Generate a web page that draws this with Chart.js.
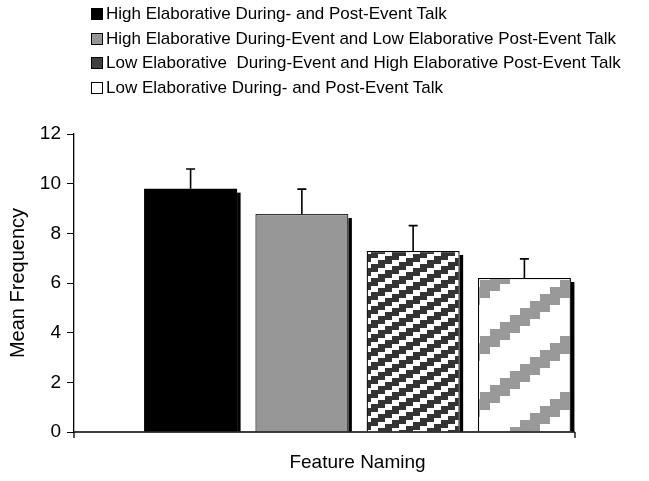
<!DOCTYPE html>
<html>
<head>
<meta charset="utf-8">
<script src="https://cdn.jsdelivr.net/npm/chart.js@4"></script>
<style>
  html, body { margin: 0; padding: 0; background: #fff; }
  #wrap { position: relative; width: 649px; height: 481px; }
  #legenda { position: absolute; left: 91px; top: 4px; font-family: "Liberation Sans", Arial, sans-serif; font-size: 17px; color: #000; }
  #legenda div { height: 24.5px; line-height: 20px; white-space: pre; }
  #legenda span.box { display: inline-block; width: 12px; height: 12px; border: 1px solid #000; margin-right: 3px; vertical-align: -1px; box-sizing: border-box; }
</style>
</head>
<body>
<div id="wrap">
  <canvas id="grafico" width="649" height="481"></canvas>
  <div id="legenda"></div>
</div>
<script>
// ===== DADOS =====
const categorias = ["Feature Naming"];
const series = [
  "High Elaborative During- and Post-Event Talk",
  "High Elaborative During-Event and Low Elaborative Post-Event Talk",
  "Low Elaborative  During-Event and High Elaborative Post-Event Talk",
  "Low Elaborative During- and Post-Event Talk"
];
const medias = [9.8, 8.78, 7.29, 6.2];
const erros = [0.79, 1.0, 1.02, 0.77];
const yTicks = [0, 2, 4, 6, 8, 10, 12];

// ===== PADRÕES =====
function padrao(w, h, bloco, passo, faixa, cor) {
  const c = document.createElement("canvas");
  c.width = w; c.height = h;
  const ctx = c.getContext("2d");
  ctx.fillStyle = "#fff";
  ctx.fillRect(0, 0, w, h);
  ctx.fillStyle = cor;
  for (let x = 0; x < w; x++) {
    const k = Math.floor(x / bloco);
    for (let y = 0; y < h; y++) {
      if ((y + k * passo) % h < faixa) ctx.fillRect(x, y, 1, 1);
    }
  }
  return document.getElementById("grafico").getContext("2d").createPattern(c, "repeat");
}

const preenchimento = [
  "#000000",
  "#969696",
  padrao(49, 14, 7, 4, 8, "#333333"),
  padrao(80, 56, 10, 7, 18, "#999999")
];
const bordas = ["#000000", "#333333", "#000000", "#000000"];
const amostras = ["#000000", "#969696", "#404040", "#ffffff"];

// ===== LEGENDA =====
const legenda = document.getElementById("legenda");
series.forEach((s, i) => {
  legenda.innerHTML += `<div><span class="box" style="background:${amostras[i]}"></span>${s}</div>`;
});

// ===== PLUGINS =====
const sombra = {
  id: "sombra",
  beforeDatasetsDraw(chart) {
    const ctx = chart.ctx;
    ctx.save();
    ctx.fillStyle = "#000";
    chart.data.datasets.forEach((d, i) => {
      chart.getDatasetMeta(i).data.forEach(bar => {
        ctx.fillRect(bar.x + bar.width / 2, bar.y + 4, 3.5, bar.base - bar.y - 4);
      });
    });
    ctx.restore();
  }
};

const barrasErro = {
  id: "barrasErro",
  afterDatasetsDraw(chart) {
    const ctx = chart.ctx;
    const y = chart.scales.y;
    ctx.save();
    ctx.strokeStyle = "#000";
    ctx.lineWidth = 1.6;
    chart.data.datasets.forEach((d, i) => {
      chart.getDatasetMeta(i).data.forEach((bar, j) => {
        const topo = y.getPixelForValue(d.data[j] + erros[i]);
        ctx.beginPath();
        ctx.moveTo(bar.x, bar.y);
        ctx.lineTo(bar.x, topo);
        ctx.moveTo(bar.x - 4.5, topo);
        ctx.lineTo(bar.x + 4.5, topo);
        ctx.stroke();
      });
    });
    ctx.restore();
  }
};

const eixoX = {
  id: "eixoX",
  afterDraw(chart) {
    const ctx = chart.ctx;
    const a = chart.chartArea;
    const fim = 575;
    ctx.save();
    ctx.strokeStyle = "#000";
    ctx.lineWidth = 1.3;
    ctx.beginPath();
    ctx.moveTo(a.left, a.bottom);
    ctx.lineTo(fim, a.bottom);
    ctx.moveTo(a.left, a.bottom);
    ctx.lineTo(a.left, a.bottom + 6);
    ctx.moveTo(fim, a.bottom);
    ctx.lineTo(fim, a.bottom + 6);
    ctx.stroke();
    ctx.restore();
  }
};

// ===== GRÁFICO =====
const fonte = "'Liberation Sans', Arial, sans-serif";

new Chart(document.getElementById("grafico"), {
  type: "bar",
  data: {
    labels: categorias,
    datasets: series.map((s, i) => ({
      label: s,
      data: [medias[i]],
      backgroundColor: preenchimento[i],
      borderColor: bordas[i],
      borderWidth: i === 0 ? 0 : 1.3,
      barPercentage: 0.836,
      categoryPercentage: 0.785
    }))
  },
  options: {
    responsive: false,
    animation: false,
    layout: { padding: { top: 134, right: 8, left: 0, bottom: 0 } },
    plugins: {
      legend: { display: false },
      tooltip: { enabled: false }
    },
    scales: {
      x: {
        grid: { display: false },
        border: { display: false },
        ticks: { display: false },
        title: {
          display: true,
          text: categorias[0],
          color: "#000",
          font: { family: fonte, size: 19 },
          padding: { top: 0, bottom: 7 }
        },
        afterFit(s) { s.height = 49; }
      },
      y: {
        min: 0,
        max: 12,
        afterBuildTicks(s) { s.ticks = yTicks.map(v => ({ value: v })); },
        grid: { drawOnChartArea: false, drawTicks: true, tickLength: 7, color: "#000", lineWidth: 1 },
        border: { display: true, color: "#000", width: 1.3 },
        ticks: { color: "#000", font: { family: fonte, size: 19 }, padding: 6 },
        title: {
          display: true,
          text: "Mean Frequency",
          color: "#000",
          font: { family: fonte, size: 20 },
          padding: { top: 6, bottom: 0 }
        },
        afterFit(s) { s.width = 74; }
      }
    }
  },
  plugins: [sombra, barrasErro, eixoX]
});
</script>
</body>
</html>
